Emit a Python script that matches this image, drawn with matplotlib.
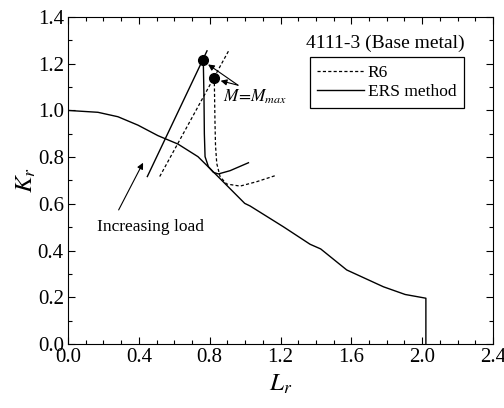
import matplotlib
matplotlib.use("Agg")
import matplotlib.pyplot as plt
from matplotlib.ticker import MultipleLocator

plt.rcParams['font.family'] = ['Liberation Serif', 'DejaVu Serif']
plt.rcParams['mathtext.fontset'] = 'stix'

# ─── Data ────────────────────────────────────────────────────────────
# Failure assessment curve
fad_L = [0.0, 0.169, 0.282, 0.395, 0.508, 0.621, 0.734, 0.810, 0.885, 0.998,
         1.028, 1.216, 1.367, 1.427, 1.574, 1.781, 1.904, 2.021, 2.021]
fad_K = [1.0, 0.992, 0.973, 0.937, 0.892, 0.856, 0.802, 0.745, 0.688, 0.602,
         0.591, 0.502, 0.427, 0.407, 0.317, 0.245, 0.212, 0.196, 0.0]

# ERS method: loading line and locus after M = Mmax
ers_load_L = [0.448, 0.785]
ers_load_K = [0.717, 1.255]
ers_path_L = [0.764, 0.768, 0.770, 0.774, 0.793, 0.821, 0.849, 0.915, 1.019]
ers_path_K = [1.215, 1.05, 0.90, 0.802, 0.759, 0.735, 0.728, 0.742, 0.776]

# R6: loading line and locus after M = Mmax
r6_load_L = [0.518, 0.907]
r6_load_K = [0.717, 1.255]
r6_path_L = [0.826, 0.830, 0.833, 0.840, 0.859, 0.896, 0.972, 1.066, 1.179]
r6_path_K = [1.140, 0.95, 0.85, 0.773, 0.716, 0.685, 0.676, 0.695, 0.723]

# M = Mmax points
mmax_L = [0.762, 0.824]
mmax_K = [1.215, 1.140]

# ─── Figure ──────────────────────────────────────────────────────────
fig = plt.figure(figsize=(5.04, 4.08), dpi=100)
ax = fig.add_axes([68 / 504, 64 / 408, 425 / 504, 327 / 408])

dash = (0, (2.5, 1.8))
ax.plot(fad_L, fad_K, color='black', lw=1.0)
ax.plot(ers_load_L, ers_load_K, color='black', lw=1.0)
ax.plot(ers_path_L, ers_path_K, color='black', lw=1.0, label='ERS method')
ax.plot(r6_load_L, r6_load_K, color='black', lw=0.9, linestyle=dash)
ax.plot(r6_path_L, r6_path_K, color='black', lw=0.9, linestyle=dash, label='R6')
ax.plot(mmax_L, mmax_K, 'o', color='black', ms=7, zorder=5)

# Annotations
arrow = dict(arrowstyle='-|>', color='black', lw=0.8, mutation_scale=9,
             shrinkA=0, shrinkB=0)
for hx, hy in [(0.791, 1.197), (0.862, 1.127)]:
    ax.annotate('', xy=(hx, hy), xytext=(0.96, 1.108), arrowprops=arrow)
ax.text(0.875, 1.06, r'$M\!=\!M_{max}$', fontsize=12.5, ha='left', va='center')

ax.annotate('', xy=(0.424, 0.776), xytext=(0.286, 0.574), arrowprops=arrow)
ax.text(0.166, 0.503, 'Increasing load', fontsize=12.5, ha='left', va='center')

ax.text(1.342, 1.289, '4111-3 (Base metal)', fontsize=14, ha='left', va='center')

handles, labels = ax.get_legend_handles_labels()
leg = ax.legend(handles[::-1], labels[::-1], loc='upper right',
                bbox_to_anchor=(0.932, 0.878), fontsize=12.5, frameon=True,
                fancybox=False, edgecolor='black', framealpha=1,
                handlelength=2.7, handletextpad=0.2, borderpad=0.45,
                labelspacing=0.2, borderaxespad=0)
leg.get_frame().set_linewidth(0.9)

ax.set_xlim(0, 2.4)
ax.set_ylim(0, 1.4)
ax.xaxis.set_major_locator(MultipleLocator(0.4))
ax.xaxis.set_minor_locator(MultipleLocator(0.1))
ax.yaxis.set_major_locator(MultipleLocator(0.2))
ax.yaxis.set_minor_locator(MultipleLocator(0.1))
ax.xaxis.set_major_formatter(plt.FormatStrFormatter('%.1f'))
ax.yaxis.set_major_formatter(plt.FormatStrFormatter('%.1f'))
ax.tick_params(which='both', direction='in', top=True, right=True,
               labelsize=15)
ax.tick_params(which='major', length=5, width=0.8, pad=3)
ax.tick_params(which='minor', length=3, width=0.8)
ax.set_xlabel(r'$L_r$', fontsize=18, labelpad=4)
ax.set_ylabel(r'$K_r$', fontsize=18, labelpad=0)

plt.savefig('out.png', dpi=100)
